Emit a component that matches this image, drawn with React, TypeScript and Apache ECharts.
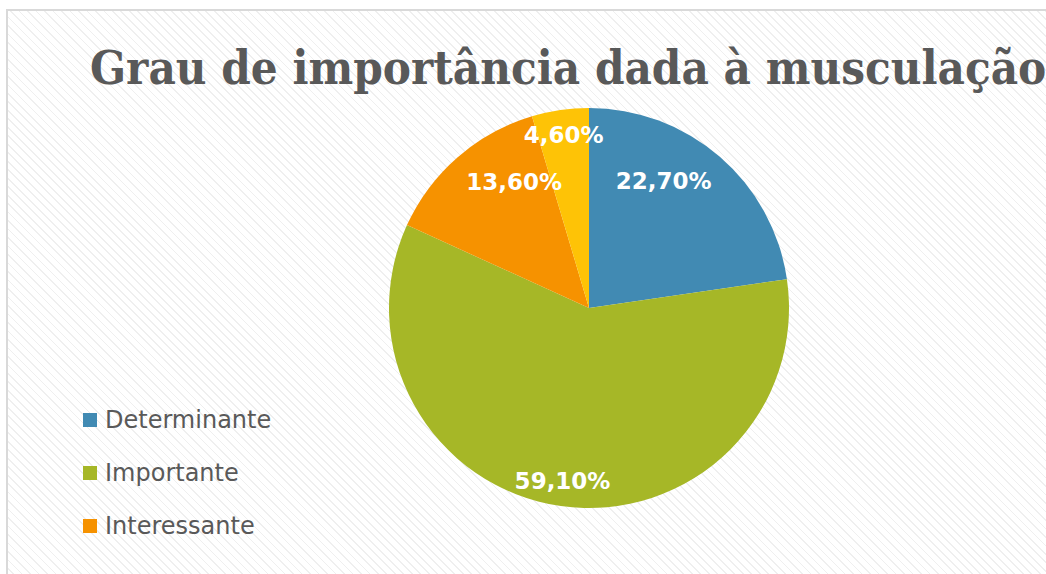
import React, { useEffect, useRef } from "react";
import * as echarts from "echarts";

const categories = ["Determinante", "Importante", "Interessante", "Pouco importante"];
const values = [22.7, 59.1, 13.6, 4.6];
const labels = ["22,70%", "59,10%", "13,60%", "4,60%"];
const legendNames = ["Determinante", "Importante", "Interessante"];
const colors = ["#418AB3", "#A6B727", "#F69200", "#FEC306"];
const labelFactors = [0.716, 0.85, 0.713, 0.851];
const labelTurns = [-10.5, 0.6, 10.4, 0];

const CX = 589;
const CY = 308;

export default function App() {
  const ref = useRef<HTMLDivElement>(null);
  useEffect(() => {
    if (!ref.current) return;
    const chart = echarts.init(ref.current, null, { renderer: "svg" });
    chart.setOption({
      animation: false,
      backgroundColor: "transparent",
      title: {
        text: "Grau de importância dada à musculação",
        left: 85,
        top: 39,
        textStyle: {
          fontFamily: "DejaVu Serif Condensed",
          fontWeight: "bold",
          fontSize: 47,
          color: "#595959",
        },
      },
      legend: {
        orient: "vertical",
        left: 78,
        top: 403,
        data: legendNames,
        icon: "rect",
        itemWidth: 14,
        itemHeight: 14,
        itemGap: 29,
        textStyle: {
          fontFamily: "DejaVu Sans",
          fontSize: 24,
          color: "#595959",
          padding: [0, 0, 0, 3],
        },
      },
      series: [
        {
          type: "pie",
          center: [CX, CY],
          radius: [0, 200],
          startAngle: 90,
          clockwise: true,
          silent: true,
          data: categories.map((c, i) => ({
            name: c,
            value: values[i],
            itemStyle: { color: colors[i] },
          })),
          itemStyle: { borderWidth: 0 },
          label: {
            show: true,
            position: "inside",
            formatter: (p: any) => labels[p.dataIndex],
            color: "#ffffff",
            fontFamily: "DejaVu Sans",
            fontWeight: "bold",
            fontSize: 23,
          },
          labelLine: { show: false },
          labelLayout: (p: any) => {
            const r = p.labelRect;
            const lx = r.x + r.width / 2 - CX;
            const ly = r.y + r.height / 2 - CY;
            const f = labelFactors[p.dataIndex] / 0.5;
            const a = (labelTurns[p.dataIndex] * Math.PI) / 180;
            const rx = lx * Math.cos(a) - ly * Math.sin(a);
            const ry = lx * Math.sin(a) + ly * Math.cos(a);
            return { x: CX + rx * f, y: CY + ry * f };
          },
        },
      ],
    });
    return () => chart.dispose();
  }, []);
  return (
    <div>
      <div
        style={{
          position: "fixed",
          left: 6,
          top: 9,
          width: 1100,
          height: 650,
          border: "2px solid #d9d9d9",
          background:
            "repeating-linear-gradient(45deg, #ffffff 0px, #ffffff 4.8px, #efefef 4.8px, #efefef 6px)",
        }}
      />
      <div
        ref={ref}
        style={{ position: "fixed", left: 0, top: 0, width: 1046, height: 574 }}
      />
    </div>
  );
}
